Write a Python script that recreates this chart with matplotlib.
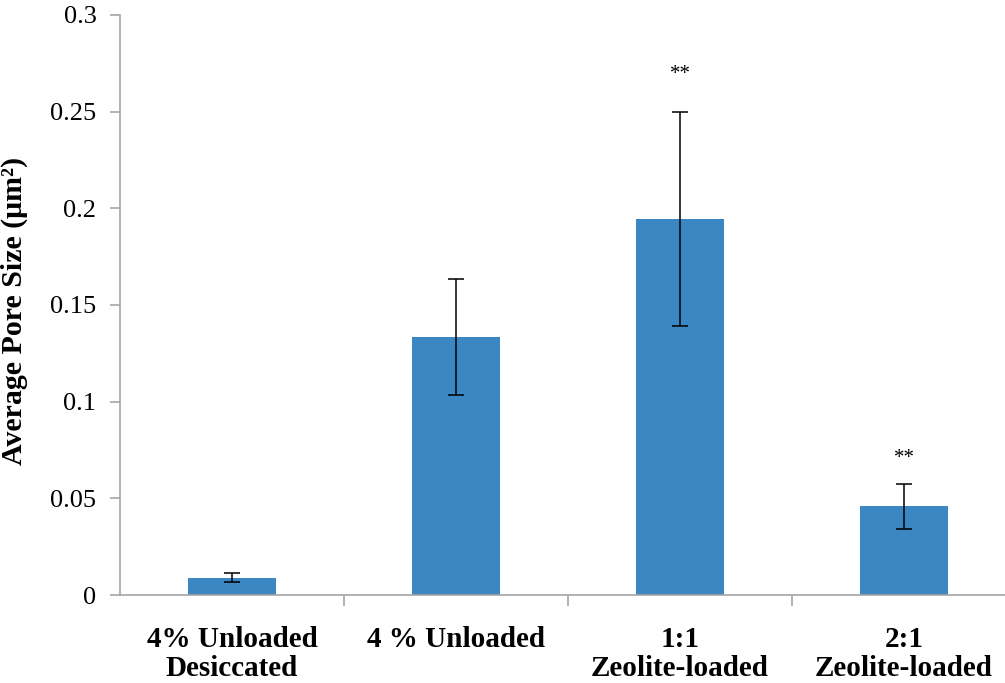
import matplotlib.pyplot as plt
import numpy as np

plt.rcParams['font.family'] = ['Liberation Serif', 'DejaVu Serif']

categories = ['4% Unloaded\nDesiccated', '4 % Unloaded', '1:1\nZeolite-loaded', '2:1\nZeolite-loaded']
pore_size = [0.0090, 0.1335, 0.1945, 0.0458]
pore_err = [0.0025, 0.0300, 0.0555, 0.0115]
marks = ['', '', '**', '**']

fig = plt.figure(figsize=(10.05, 6.83), dpi=100)
ax = fig.add_axes([120 / 1005, 1 - 595 / 683, 896 / 1005, 580 / 683])

x = np.arange(len(categories))
ax.bar(x, pore_size, width=0.395, color='#3A87C4', zorder=2)
ax.errorbar(x, pore_size, yerr=pore_err, fmt='none', ecolor='black',
            elinewidth=1.1, capsize=5.8, capthick=1.1, zorder=3)

# значущість над стовпчиками
gap = {2: 0.019, 3: 0.0135}
for xi, v, e, m in zip(x, pore_size, pore_err, marks):
    if m:
        ax.text(xi, v + e + gap[xi], m, ha='center', va='center', fontsize=15)

ax.set_xlim(-0.5, len(categories) - 0.5)
ax.set_ylim(0, 0.3)
ax.set_yticks(np.arange(0, 0.301, 0.05))
ax.set_yticklabels(['0', '0.05', '0.1', '0.15', '0.2', '0.25', '0.3'], fontsize=19)

ax.set_xticks(x)
ax.set_xticklabels(categories, fontsize=21, fontweight='bold', linespacing=1.12)
ax.tick_params(axis='x', length=0, pad=22)
ax.set_xticks(np.arange(0.5, len(categories) - 0.5, 1), minor=True)
ax.tick_params(axis='x', which='minor', length=8, color='#A6A6A6', width=1.2)
ax.tick_params(axis='y', length=7, color='#A6A6A6', width=1.2, pad=10)

for s in ['top', 'right']:
    ax.spines[s].set_visible(False)
for s in ['left', 'bottom']:
    ax.spines[s].set_color('#A6A6A6')
    ax.spines[s].set_linewidth(1.2)

ax.set_ylabel('Average Pore Size (μm²)', fontsize=21.5, fontweight='bold')
ax.yaxis.set_label_coords(-0.103, 0.49)

fig.savefig('out.png', dpi=100)
